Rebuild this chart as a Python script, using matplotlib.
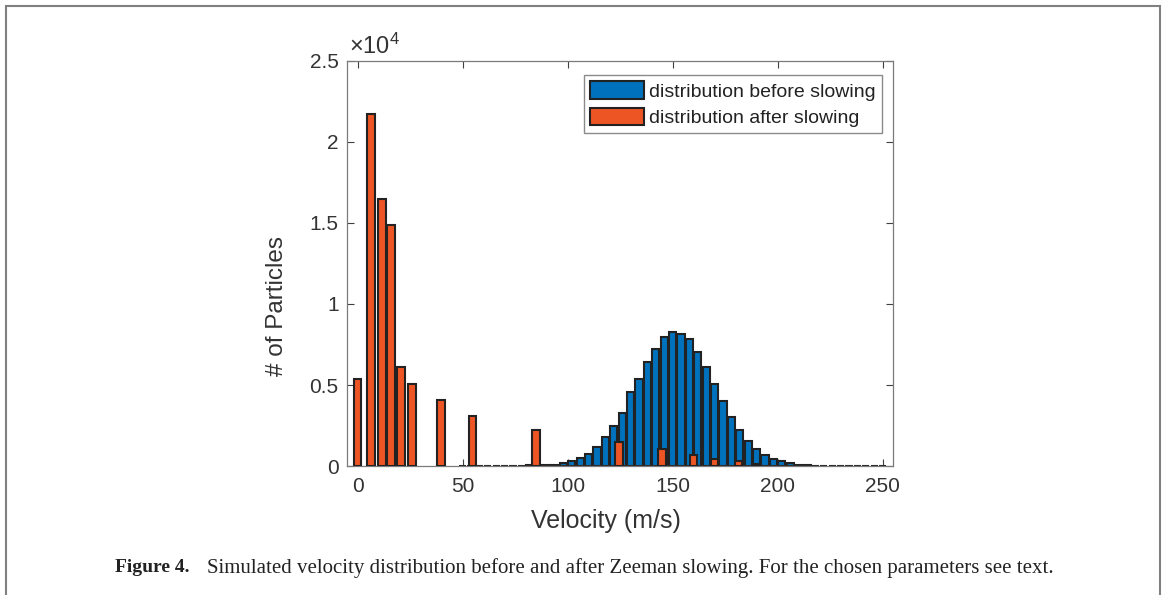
import numpy as np
import matplotlib
matplotlib.use("Agg")
import matplotlib.pyplot as plt
from matplotlib.ticker import FuncFormatter
from matplotlib.patches import Rectangle

plt.rcParams['font.family'] = ['Liberation Sans', 'DejaVu Sans']
plt.rcParams['mathtext.fontset'] = 'custom'
plt.rcParams['mathtext.rm'] = 'Liberation Sans'
plt.rcParams['mathtext.it'] = 'Liberation Sans'

# velocity distribution before slowing (bin centres in m/s, counts)
before_v = [50, 54, 58, 62, 66, 70, 74, 78, 82, 86, 90, 94,
            98, 102, 106, 110, 114, 118, 122, 126, 130, 134, 138, 142,
            146, 150, 154, 158, 162, 166, 170, 174, 178, 182, 186, 190,
            194, 198, 202, 206, 210, 214, 218, 222, 226, 230, 234, 238,
            242, 246, 250]
before_n = [10, 10, 15, 15, 20, 20, 25, 30, 35, 40, 50, 60,
            170, 290, 510, 740, 1170, 1810, 2470, 3270, 4570, 5350, 6420, 7220,
            7980, 8250, 8150, 7820, 7020, 6090, 5040, 4040, 3040, 2220, 1520, 1050,
            660, 430, 310, 160, 80, 50, 30, 20, 15, 10, 8, 6,
            5, 4, 3]

# velocity distribution after slowing
after_v = [0, 6.5, 11.5, 16, 20.7, 25.8, 39.7, 54.7, 84.8,
           124.5, 144.8, 160, 170, 181.4, 190]
after_n = [5350, 21700, 16460, 14880, 6110, 5060, 4050, 3070, 2220,
           1500, 1050, 680, 410, 290, 100]

yticks = [0, 5000, 10000, 15000, 20000, 25000]
xticks = [0, 50, 100, 150, 200, 250]

fig = plt.figure(figsize=(11.65, 5.95), dpi=100)
ax = fig.add_axes([0.2979, 0.2168, 0.4687, 0.6807])

edge = '#222222'
ax.bar(before_v, before_n, width=3.4, color='#0072BD', edgecolor=edge,
       linewidth=1.5, label='distribution before slowing', zorder=2)
ax.bar(after_v, after_n, width=3.7, color='#EE5524', edgecolor=edge,
       linewidth=1.5, label='distribution after slowing', zorder=3)

ax.set_xlim(-5, 255)
ax.set_ylim(0, 25000)
ax.set_xticks(xticks)
ax.set_yticks(yticks)
ax.yaxis.set_major_formatter(FuncFormatter(lambda v, p: f'{v / 1e4:g}'))
ax.tick_params(direction='in', top=True, right=True, length=5, width=0.8,
               color='#404040', labelsize=15, labelcolor='#333333')
ax.tick_params(axis='x', pad=8)
ax.tick_params(axis='y', pad=6)
for s in ax.spines.values():
    s.set_color('#7a7a7a')
    s.set_linewidth(0.9)

ax.set_xlabel('Velocity (m/s)', fontsize=18, color='#333333')
ax.set_ylabel('# of Particles', fontsize=17.5, color='#333333')
ax.xaxis.set_label_coords(0.474, -0.105)
ax.yaxis.set_label_coords(-0.108, 0.395)

ax.text(0.003, 1.006, r'$\times10^4$', transform=ax.transAxes, fontsize=17,
        color='#333333', ha='left', va='bottom')

leg = ax.legend(loc='upper right', bbox_to_anchor=(0.98, 0.965), fontsize=14,
                handlelength=2.8, handleheight=1.0, handletextpad=0.25,
                labelspacing=0.35, borderpad=0.32, borderaxespad=0,
                fancybox=False, framealpha=1, edgecolor='#8a8a8a')
for t in leg.get_texts():
    t.set_color('#222222')

# outer frame of the figure panel
fig.patches.append(Rectangle((6 / 1165, -0.05), 1154 / 1165, 1.05 - 6 / 595,
                             transform=fig.transFigure, fill=False,
                             edgecolor='#808080', linewidth=1.5))

fig.text(115 / 1165, 1 - 568 / 595, 'Figure 4.', fontsize=14, fontweight='bold',
         family='Liberation Serif', va='center', ha='left', color='#222222')
fig.text(207 / 1165, 1 - 568 / 595,
         'Simulated velocity distribution before and after Zeeman slowing. '
         'For the chosen parameters see text.',
         fontsize=15, family='Liberation Serif', va='center', ha='left',
         color='#222222')

fig.savefig('out.png', dpi=100)
